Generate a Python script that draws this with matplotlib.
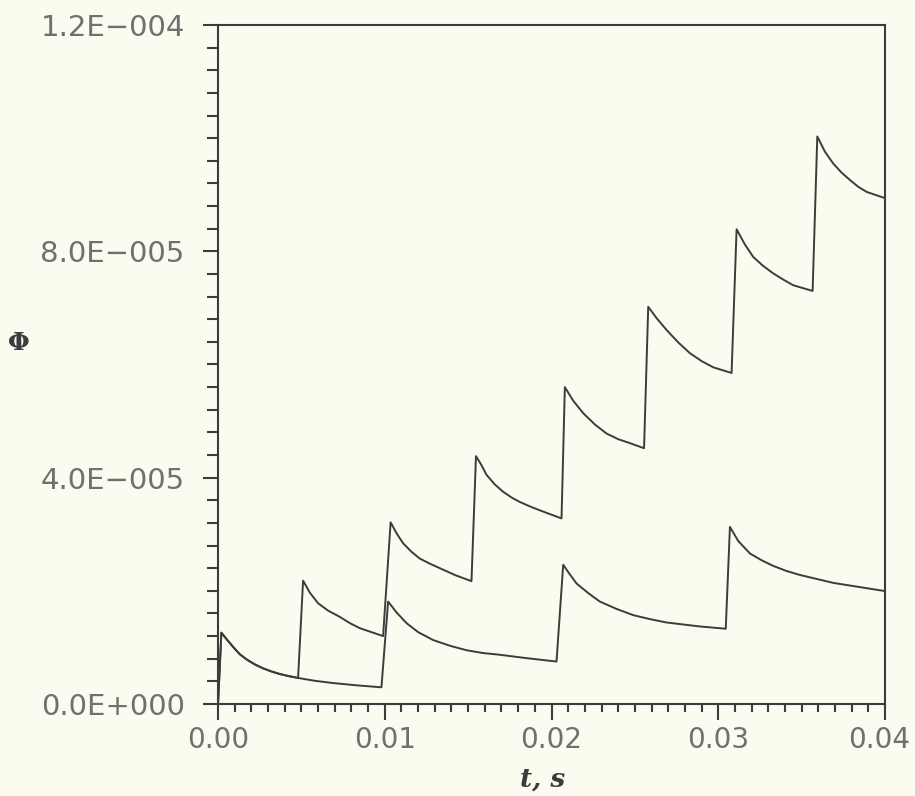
import matplotlib
matplotlib.use("Agg")
import matplotlib.pyplot as plt
import matplotlib.transforms as mtransforms
from matplotlib.ticker import MultipleLocator

# values (phi in units of 1e-5)
t_lower = [0, 0.0002, 0.0005, 0.0009, 0.0013, 0.0017, 0.0022, 0.0027, 0.0032,
           0.0037, 0.0042, 0.0048, 0.0058, 0.0069, 0.0083, 0.0098,
           0.0102, 0.0107, 0.0113, 0.0120, 0.0129, 0.0139, 0.0149, 0.0159,
           0.0169, 0.0185, 0.0203,
           0.0207, 0.0211, 0.0215, 0.0222, 0.0229, 0.0239, 0.0249, 0.0259,
           0.0269, 0.0289, 0.03045,
           0.0307, 0.0312, 0.0319, 0.0326, 0.0333, 0.0341, 0.0349, 0.0359,
           0.0369, 0.0384, 0.0399]
phi_lower = [0, 1.26, 1.15, 1.01, 0.88, 0.79, 0.70, 0.63, 0.575,
             0.53, 0.495, 0.46, 0.41, 0.37, 0.33, 0.295,
             1.81, 1.62, 1.43, 1.27, 1.13, 1.03, 0.95, 0.90,
             0.87, 0.81, 0.75,
             2.46, 2.29, 2.13, 1.96, 1.81, 1.68, 1.57, 1.50,
             1.44, 1.37, 1.33,
             3.13, 2.88, 2.66, 2.54, 2.44, 2.35, 2.28, 2.21,
             2.14, 2.07, 2.00]

t_upper = [0, 0.0002, 0.0005, 0.0009, 0.0013, 0.0017, 0.0022, 0.0027, 0.0032,
           0.0037, 0.0042, 0.0048,
           0.0051, 0.0055, 0.0060, 0.0066, 0.0073, 0.0079, 0.0085, 0.0092, 0.0099,
           0.01035, 0.0107, 0.0111, 0.0116, 0.0121, 0.0127, 0.0133, 0.0142, 0.0152,
           0.01547, 0.0158, 0.0161, 0.0166, 0.0171, 0.0176, 0.0181, 0.0188,
           0.0195, 0.0206,
           0.0208, 0.0213, 0.0219, 0.0226, 0.0233, 0.0240, 0.0247, 0.02555,
           0.0258, 0.0263, 0.0269, 0.0276, 0.0283, 0.0290, 0.0297, 0.0308,
           0.0311, 0.0316, 0.0321, 0.0327, 0.0333, 0.0339, 0.0345, 0.03566,
           0.03594, 0.0364, 0.0369, 0.0374, 0.0379, 0.0384, 0.0389, 0.0399]
phi_upper = [0, 1.26, 1.15, 1.01, 0.88, 0.79, 0.70, 0.63, 0.575,
             0.53, 0.495, 0.46,
             2.18, 1.97, 1.78, 1.65, 1.54, 1.43, 1.34, 1.27, 1.20,
             3.21, 3.02, 2.84, 2.69, 2.57, 2.48, 2.40, 2.28, 2.17,
             4.38, 4.22, 4.05, 3.88, 3.75, 3.65, 3.57, 3.48,
             3.40, 3.28,
             5.60, 5.36, 5.14, 4.94, 4.78, 4.68, 4.61, 4.52,
             7.02, 6.82, 6.61, 6.39, 6.20, 6.06, 5.95, 5.85,
             8.39, 8.12, 7.90, 7.74, 7.61, 7.50, 7.40, 7.30,
             10.03, 9.76, 9.55, 9.39, 9.26, 9.14, 9.05, 8.95]

x_ticks = [0.00, 0.01, 0.02, 0.03, 0.04]
x_labels = ["0.00", "0.01", "0.02", "0.03", "0.04"]
y_ticks = [0, 4e-5, 8e-5, 1.2e-4]
y_labels = ["0.0E+000", "4.0E\u2212005", "8.0E\u2212005", "1.2E\u2212004"]

bg = "#fbfbef"
ink = "#3c3c3c"
label_col = "#707070"

fig = plt.figure(figsize=(9.15, 7.96), dpi=100, facecolor=bg)
ax = fig.add_axes([0.2383, 0.1156, 0.9672 - 0.2383, 0.9686 - 0.1156])
ax.set_facecolor(bg)

ax.plot(t_lower, [v * 1e-5 for v in phi_lower], color=ink, lw=1.4)
ax.plot(t_upper, [v * 1e-5 for v in phi_upper], color=ink, lw=1.4)

ax.set_xlim(0, 0.04)
ax.set_ylim(0, 1.2e-4)
ax.set_xticks(x_ticks)
ax.set_xticklabels(x_labels)
ax.set_yticks(y_ticks)
ax.set_yticklabels(y_labels)
ax.xaxis.set_minor_locator(MultipleLocator(0.001))
ax.yaxis.set_minor_locator(MultipleLocator(4e-6))

for s in ax.spines.values():
    s.set_color(ink)
    s.set_linewidth(1.5)

ax.tick_params(axis="both", which="both", direction="out", color=ink, width=1.5,
               labelcolor=label_col)
ax.tick_params(axis="x", which="major", length=11.5, pad=4, labelsize=20)
ax.tick_params(axis="x", which="minor", length=6)
ax.tick_params(axis="y", which="major", length=11, pad=13, labelsize=21)
ax.tick_params(axis="y", which="minor", length=8)
for lab in ax.get_xticklabels() + ax.get_yticklabels():
    lab.set_family("DejaVu Sans")

# the last x label sits at the image edge; nudge it in a little
last = ax.get_xticklabels()[-1]
last.set_transform(last.get_transform() +
                   mtransforms.ScaledTranslation(-6 / 100, 0, fig.dpi_scale_trans))

fig.text(0.593, 0.021, "t, s", fontsize=19, color=ink, ha="center", va="center",
         family="DejaVu Serif", style="italic", weight="bold")
fig.text(0.021, 0.569, "\u03a6", fontsize=18, color=ink, ha="center", va="center",
         family="DejaVu Serif", weight="bold")

fig.savefig("out.png", dpi=100, facecolor=bg)
